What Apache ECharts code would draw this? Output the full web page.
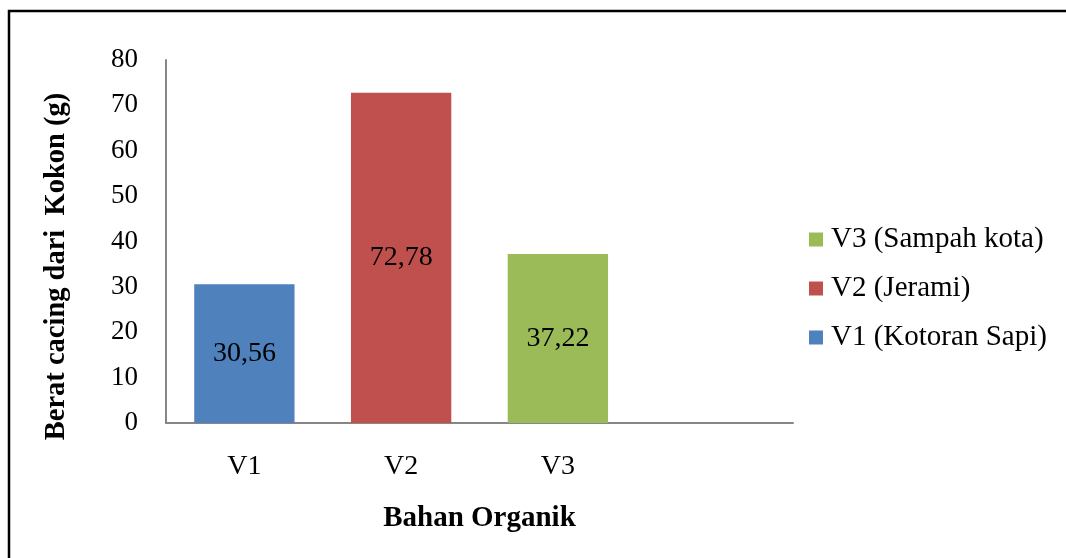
<!DOCTYPE html>
<html>
<head>
<meta charset="utf-8">
<script src="https://cdn.jsdelivr.net/npm/echarts@6/dist/echarts.min.js"></script>
<style>
  html, body { margin: 0; padding: 0; background: #fff; }
  #chart { width: 1066px; height: 558px; }
</style>
</head>
<body>
<div id="chart"></div>
<script>
// data
const categories = ['V1', 'V2', 'V3', ''];
const seriesNames = ['V1 (Kotoran Sapi)', 'V2 (Jerami)', 'V3 (Sampah kota)'];
const values = [30.56, 72.78, 37.22];
const colors = ['#4F81BD', '#C0504D', '#9BBB59'];
const yTicks = [0, 80, 10]; // min, max, interval

const font = "'Liberation Serif', 'Times New Roman', serif";

// one series per bar so each gets its own legend entry
const series = seriesNames.map((name, i) => ({
  name: name,
  type: 'bar',
  stack: 'all',
  barWidth: '64%',
  itemStyle: { color: colors[i] },
  label: {
    show: true,
    position: 'inside',
    color: '#000',
    fontFamily: font,
    fontSize: 28,
    formatter: p => p.value.toFixed(2).replace('.', ',')
  },
  data: categories.map((c, j) => (j === i ? values[i] : null))
}));

const myChart = echarts.init(document.getElementById('chart'));
myChart.setOption({
  animation: false,
  textStyle: { fontFamily: font },
  graphic: [{
    type: 'rect',
    shape: { x: 9, y: 11, width: 2000, height: 2000 },
    style: { fill: 'none', stroke: '#000', lineWidth: 2.5 }
  }],
  grid: { left: 166, top: 60, right: 273, bottom: 135 },
  legend: {
    orient: 'vertical',
    left: 804,
    top: 220,
    itemWidth: 14,
    itemHeight: 14,
    itemGap: 20,
    icon: 'rect',
    data: seriesNames.slice().reverse(),
    textStyle: { fontFamily: font, fontSize: 29, lineHeight: 29, color: '#000', padding: [0, 0, 0, 3] }
  },
  xAxis: {
    type: 'category',
    data: categories,
    name: 'Bahan Organik',
    nameLocation: 'middle',
    nameGap: 81,
    nameTextStyle: { fontFamily: font, fontSize: 29, fontWeight: 'bold', color: '#000' },
    axisLine: { lineStyle: { color: '#868686', width: 2 } },
    axisTick: { show: false },
    axisLabel: { color: '#000', fontFamily: font, fontSize: 28, margin: 30 }
  },
  yAxis: {
    type: 'value',
    min: yTicks[0],
    max: yTicks[1],
    interval: yTicks[2],
    name: 'Berat cacing dari  Kokon (g)',
    nameLocation: 'middle',
    nameGap: 95,
    nameTextStyle: { fontFamily: font, fontSize: 28.5, fontWeight: 'bold', color: '#000', padding: [0, 50, 0, 0] },
    axisLine: { show: true, lineStyle: { color: '#868686', width: 2 } },
    axisTick: { show: false },
    splitLine: { show: false },
    axisLabel: { color: '#000', fontFamily: font, fontSize: 27, margin: 28 }
  },
  series: series
});
</script>
</body>
</html>
